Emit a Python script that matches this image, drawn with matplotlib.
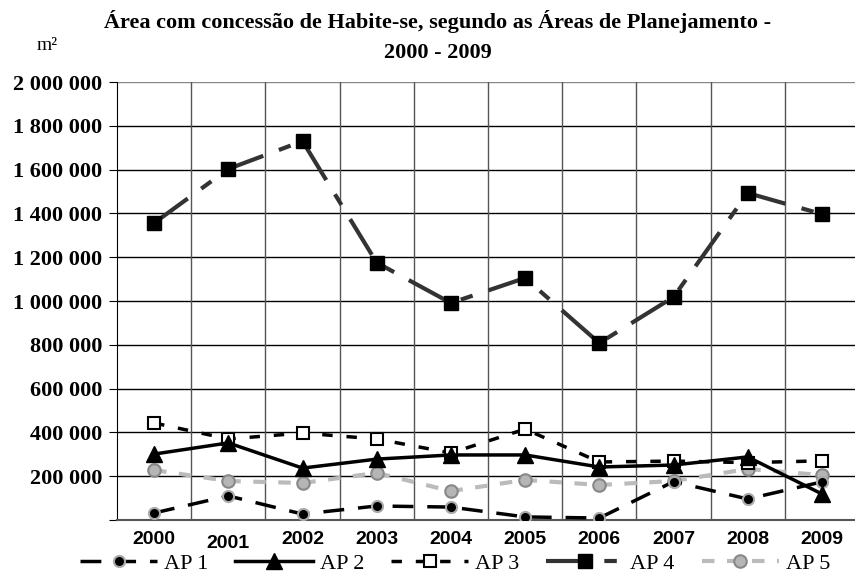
import numpy as np
import matplotlib
matplotlib.use('Agg')
from matplotlib import pyplot as plt
from matplotlib.ticker import FuncFormatter

anos = ['2000', '2001', '2002', '2003', '2004', '2005', '2006', '2007', '2008', '2009']

ap1 = [32000, 110000, 27000, 64000, 59000, 14000, 9000, 175000, 96000, 174000]
ap2 = [301000, 352000, 237000, 278000, 297000, 297000, 242000, 251000, 288000, 119000]
ap3 = [443000, 370000, 397000, 370000, 306000, 415000, 265000, 269000, 262000, 270000]
ap4 = [1356000, 1603000, 1730000, 1175000, 991000, 1105000, 808000, 1018000, 1493000, 1397000]
ap5 = [228000, 178000, 169000, 215000, 132000, 183000, 160000, 178000, 233000, 205000]

serif = 'Liberation Serif'
sans = 'Liberation Sans'

fig = plt.figure(figsize=(8.55, 5.76), dpi=100)
ax = fig.add_axes([117 / 855, 1 - 520 / 576, 742 / 855, 438 / 576])

x = np.arange(len(anos))

# AP 4 fica atrás
ax.plot(x, ap4, color='#333333', lw=3, dashes=(10, 4, 3, 4),
        marker='s', ms=10, mfc='black', mec='black', label='AP 4', zorder=3)
ax.plot(x, ap5, color='#bbbbbb', lw=3, dashes=(3, 3),
        marker='o', ms=9, mfc='#b5b5b5', mec='#888888', mew=1.5, label='AP 5', zorder=3)
ax.plot(x, ap1, color='black', lw=2.5, dashes=(6, 4),
        marker='o', ms=8, mfc='black', mec='#aaaaaa', mew=1.5, label='AP 1', zorder=4)
ax.plot(x, ap3, color='black', lw=2.5, dashes=(3, 4),
        marker='s', ms=8, mfc='white', mec='black', mew=1.5, label='AP 3', zorder=4)
ax.plot(x, ap2, color='black', lw=2.5,
        marker='^', ms=11, mfc='black', mec='black', label='AP 2', zorder=5)

ax.set_xlim(-0.5, 9.5)
ax.set_ylim(0, 2000000)
ax.set_yticks(np.arange(0, 2000001, 200000))
ax.yaxis.set_major_formatter(FuncFormatter(
    lambda v, p: '' if v == 0 else f'{int(v):,}'.replace(',', ' ')))
for lab in ax.get_yticklabels():
    lab.set_fontfamily(serif)
    lab.set_fontweight('bold')
    lab.set_fontsize(16)

ax.set_xticks(x)
ax.set_xticklabels(anos, fontfamily=sans, fontweight='bold', fontsize=14)
ax.tick_params(axis='x', length=0, pad=8)
ax.tick_params(axis='y', length=5.5, pad=5)
for i, lab in enumerate(ax.get_xticklabels()):
    if anos[i] == '2001':
        lab.set_y(-0.008)

# grade
for v in np.arange(200000, 2000001, 200000):
    ax.axhline(v, color='black' if v < 2000000 else '#888888', lw=1, zorder=1)
for b in np.arange(0.5, 9.5, 1):
    ax.axvline(b, color='#555555', lw=1, zorder=1)

for s in ['top', 'right']:
    ax.spines[s].set_visible(False)
ax.spines['left'].set_color('black')
ax.spines['bottom'].set_color('#555555')
ax.spines['bottom'].set_linewidth(1.5)

fig.text(438 / 855, 1 - 10 / 576, 'Área com concessão de Habite-se, segundo as Áreas de Planejamento -\n2000 - 2009',
         ha='center', va='top', fontfamily=serif, fontweight='bold', fontsize=16,
         linespacing=1.65)
fig.text(47 / 855, 1 - 45 / 576, 'm²', ha='center', va='center', fontfamily=serif, fontsize=14)

h, l = ax.get_legend_handles_labels()
order = [l.index(n) for n in ['AP 1', 'AP 2', 'AP 3', 'AP 4', 'AP 5']]
fig.legend([h[i] for i in order], [l[i] for i in order], loc='center',
           bbox_to_anchor=(455 / 855, 1 - 564 / 576), ncol=5, frameon=False,
           handlelength=3.5, handletextpad=0.3, columnspacing=1.2,
           prop={'family': serif, 'size': 16})

fig.savefig('out.png', dpi=100)
